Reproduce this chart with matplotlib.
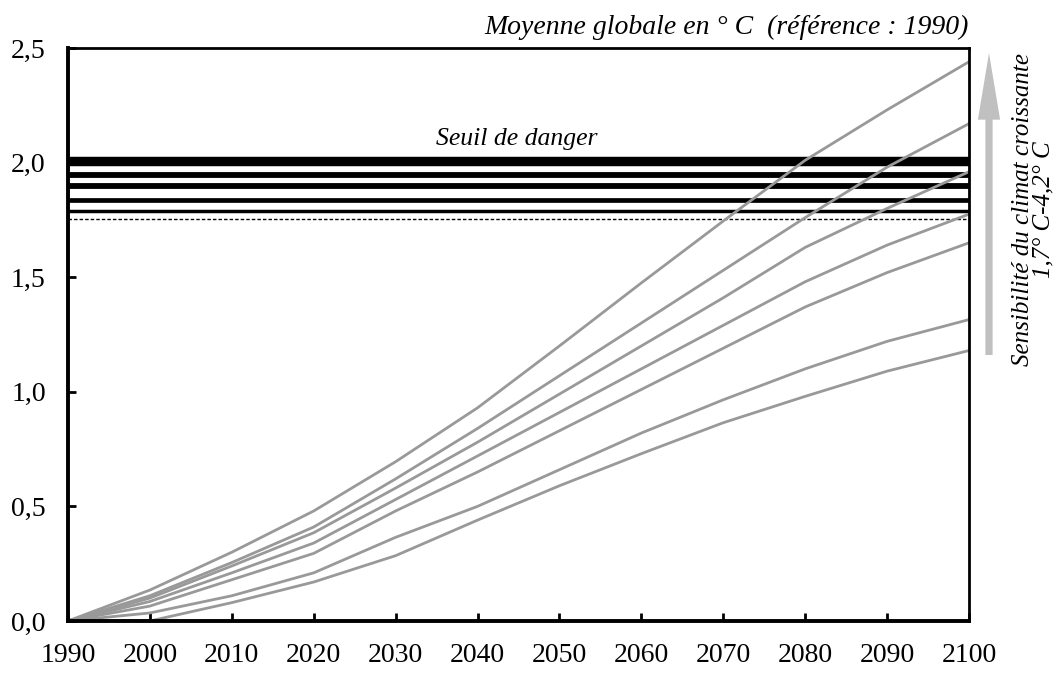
import matplotlib
matplotlib.use("Agg")
import matplotlib.pyplot as plt

# years on the x axis
years = [1990, 2000, 2010, 2020, 2030, 2040, 2050, 2060, 2070, 2080, 2090, 2100]

# the seven warming curves, highest sensitivity first (deg C above 1990)
curve_1 = [0, 0.135, 0.30, 0.48, 0.695, 0.93, 1.20, 1.475, 1.745, 2.01, 2.23, 2.44]
curve_2 = [0, 0.11, 0.255, 0.41, 0.62, 0.84, 1.07, 1.30, 1.53, 1.76, 1.98, 2.17]
curve_3 = [0, 0.10, 0.24, 0.385, 0.58, 0.78, 0.99, 1.20, 1.41, 1.63, 1.80, 1.96]
curve_4 = [0, 0.085, 0.21, 0.34, 0.53, 0.72, 0.91, 1.10, 1.29, 1.48, 1.64, 1.775]
curve_5 = [0, 0.065, 0.18, 0.295, 0.48, 0.65, 0.83, 1.01, 1.19, 1.37, 1.52, 1.65]
curve_6 = [0, 0.035, 0.11, 0.21, 0.365, 0.50, 0.66, 0.82, 0.965, 1.10, 1.22, 1.315]
curve_7 = [0, 0.0, 0.08, 0.17, 0.285, 0.44, 0.59, 0.73, 0.865, 0.98, 1.09, 1.18]
curves = [curve_1, curve_2, curve_3, curve_4, curve_5, curve_6, curve_7]

# danger threshold band (levels)
danger_levels = [2.005, 1.946, 1.898, 1.836, 1.788]
danger_dashed = 1.752

y_ticks = [0.0, 0.5, 1.0, 1.5, 2.0, 2.5]
y_labels = ["0,0", "0,5", "1,0", "1,5", "2,0", "2,5"]

plt.rcParams['font.family'] = ['Liberation Serif', 'DejaVu Serif']

fig = plt.figure(figsize=(10.56, 6.76), dpi=100)
ax = fig.add_axes([0.0644, 0.0814, 0.8532, 0.8476])

# threshold lines, thick to thin
widths = [6.8, 4.2, 4.2, 3.4, 2.5]
for lvl, w in zip(danger_levels, widths):
    ax.axhline(lvl, color="black", linewidth=w, zorder=1)
ax.axhline(danger_dashed, color="black", linewidth=1.0, linestyle=(0, (2.5, 1.5)), zorder=1)

for c in curves:
    ax.plot(years, c, color="#999999", linewidth=2.0, zorder=2)

ax.set_xlim(1990, 2100)
ax.set_ylim(0, 2.5)
ax.set_xticks(years)
ax.set_xticklabels([str(y) for y in years], fontsize=20)
ax.set_yticks(y_ticks)
ax.set_yticklabels(y_labels, fontsize=20)
ax.tick_params(axis="both", direction="in", length=6, width=2, colors="black")
ax.tick_params(axis="x", pad=16)
ax.tick_params(axis="y", pad=16)

for side in ["left", "bottom"]:
    ax.spines[side].set_linewidth(2.8)
for side in ["top", "right"]:
    ax.spines[side].set_linewidth(2.0)

ax.text(2044.8, 2.105, "Seuil de danger", style="italic", fontsize=18.5,
        ha="center", va="center")

fig.text(0.9176, 0.96, "Moyenne globale en ° C  (référence : 1990)", style="italic",
         fontsize=20, ha="right", va="center")

# grey arrow on the right
ax.annotate("", xy=(989, 676 - 53), xytext=(989, 676 - 355), xycoords="figure pixels",
            textcoords="figure pixels",
            arrowprops=dict(width=5.2, headwidth=16, headlength=48, shrink=0,
                            color="#c0c0c0", linewidth=0), annotation_clip=False)

fig.text(0.9785, 0.69, "Sensibilité du climat croissante\n1,7° C-4,2° C", style="italic",
         fontsize=18, rotation=90, ha="center", va="center", multialignment="center",
         linespacing=0.9)

fig.savefig("out.png", dpi=100)
